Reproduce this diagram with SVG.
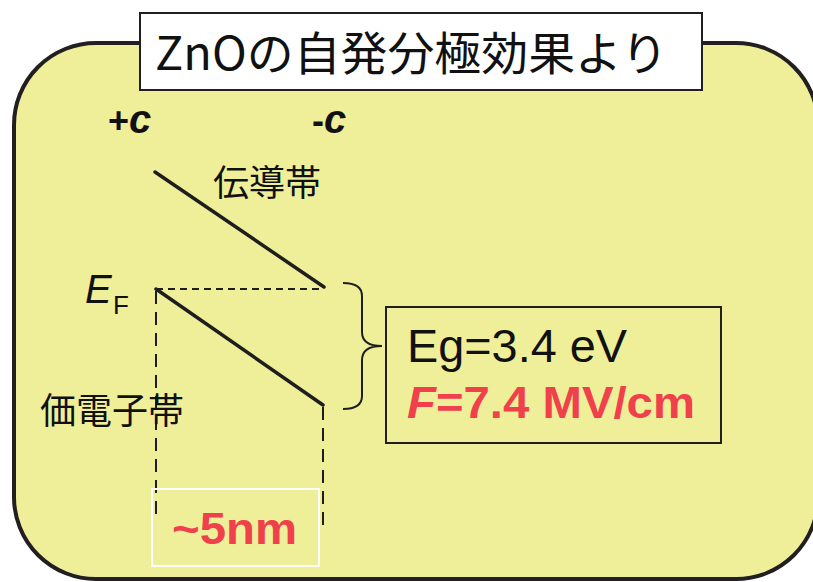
<svg xmlns="http://www.w3.org/2000/svg" width="813" height="582" viewBox="0 0 813 582">
<style>
.jp{font-family:"Noto Sans CJK JP","Liberation Sans",sans-serif;fill:#111}
.lat{font-family:"Liberation Sans",Arial,sans-serif;fill:#111}
.red{font-family:"Liberation Sans",Arial,sans-serif;font-weight:bold;fill:#ef404c}
.band{stroke:#1e1e1e;stroke-width:3.5;fill:none;stroke-linecap:round}
.dash{stroke:#1e1e1e;stroke-width:2;fill:none}
</style>
<rect width="813" height="582" fill="#ffffff"/>
<g id="panel">
<path d="M96,43 H736 A82,82 0 0 1 818,125 V497 A82,82 0 0 1 736,579 H96 A82,82 0 0 1 14,497 V125 A82,82 0 0 1 96,43 Z" fill="#f0ef99" stroke="#231f20" stroke-width="4"/>
</g>
<g id="title">
<rect x="140" y="13" width="562" height="77" fill="#ffffff" stroke="#231f20" stroke-width="2"/>
<text class="jp" x="155" y="70" font-size="46" textLength="513" lengthAdjust="spacingAndGlyphs">ZnOの自発分極効果より</text>
</g>
<g id="axis-labels">
<text class="lat" x="108" y="133" font-size="36" font-weight="bold">+<tspan font-style="italic" font-size="40">c</tspan></text>
<text class="lat" x="312" y="133" font-size="36" font-weight="bold">-<tspan font-style="italic" font-size="40">c</tspan></text>
</g>
<g id="connectors">
<line class="band" x1="155" y1="172" x2="324" y2="287"/>
<line class="band" x1="156" y1="289" x2="323" y2="405"/>
<line class="dash" x1="156" y1="289" x2="324" y2="289" stroke-dasharray="7 5"/>
<line class="dash" x1="156" y1="291" x2="156" y2="519" stroke-dasharray="13 8"/>
<line class="dash" x1="323" y1="407" x2="323" y2="526" stroke-dasharray="13 8"/>
<path d="M343,283 Q362,283 362,296 V332 Q362,346 382,346 Q362,346 362,360 V396 Q362,409 343,409" fill="none" stroke="#1e1e1e" stroke-width="2"/>
</g>
<g id="cb-label">
<text class="jp" x="213" y="196" font-size="36">伝導帯</text>
</g>
<g id="ef-label">
<text class="lat" x="85" y="303" font-size="40" font-style="italic">E</text>
<text class="lat" x="113" y="314" font-size="26">F</text>
</g>
<g id="vb-label">
<text class="jp" x="40" y="424" font-size="36">価電子帯</text>
</g>
<g id="params">
<rect x="386" y="307" width="335" height="136" fill="none" stroke="#231f20" stroke-width="2"/>
<text class="lat" x="407" y="362" font-size="46" textLength="220" lengthAdjust="spacingAndGlyphs">Eg=3.4 eV</text>
<text class="red" x="407" y="418" font-size="44" textLength="288" lengthAdjust="spacingAndGlyphs"><tspan font-style="italic">F</tspan>=7.4 MV/cm</text>
</g>
<g id="width-label">
<rect x="152" y="489" width="167" height="77" fill="none" stroke="#ffffff" stroke-width="2"/>
<text class="red" x="172" y="544" font-size="45" textLength="125" lengthAdjust="spacingAndGlyphs">~5nm</text>
</g>
</svg>
